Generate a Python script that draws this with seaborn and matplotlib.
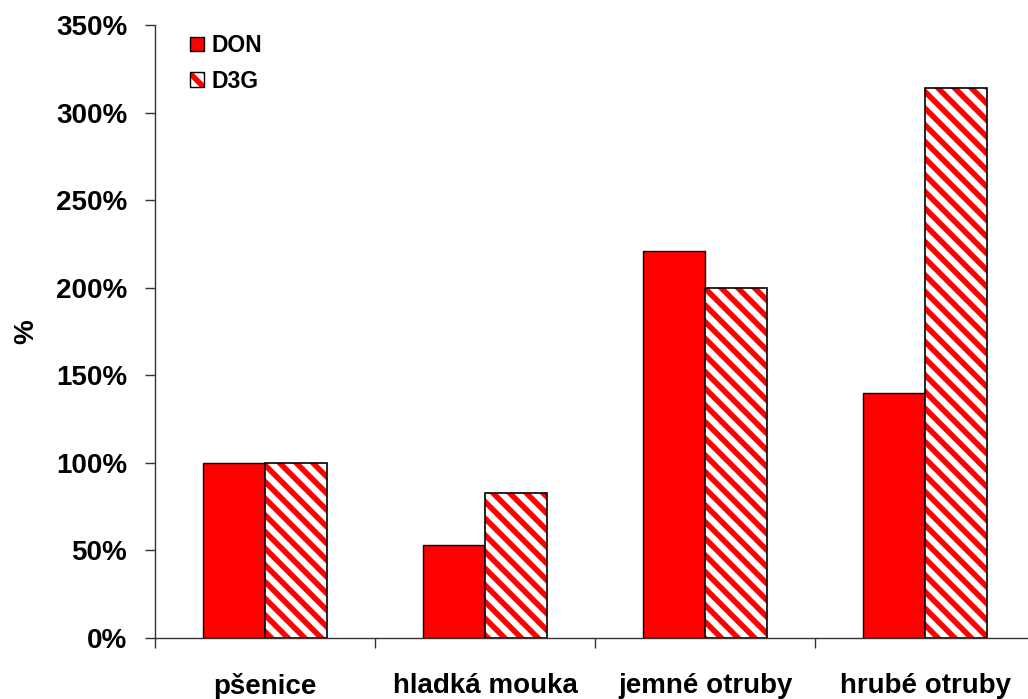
import matplotlib
matplotlib.use("Agg")
import matplotlib.pyplot as plt
import seaborn as sns
import pandas as pd
from matplotlib.patches import Patch, Rectangle
from matplotlib.legend_handler import HandlerTuple
from matplotlib.ticker import FuncFormatter, MultipleLocator, FixedLocator

categories = ["pšenice", "hladká mouka", "jemné otruby", "hrubé otruby"]
series = ["DON", "D3G"]
don_values = [100, 53, 221, 140]
d3g_values = [100, 83, 200, 314]

sns.set_theme(style="white")
plt.rcParams["font.family"] = ["Liberation Sans", "DejaVu Sans"]
plt.rcParams["hatch.linewidth"] = 4.0

df = pd.DataFrame({
    "category": categories * 2,
    "series": ["DON"] * 4 + ["D3G"] * 4,
    "value": don_values + d3g_values,
})

fig = plt.figure(figsize=(10.28, 6.99), dpi=100)
ax = fig.add_axes([155 / 1028, 61 / 699, (1028 - 155) / 1028 + 0.007, 613 / 699])

sns.barplot(data=df, x="category", y="value", hue="series", order=categories,
            hue_order=series, palette={"DON": "#FF0000", "D3G": "white"},
            saturation=1, width=0.565, edgecolor="black", linewidth=1.0, ax=ax, legend=False)

HATCH = "\\\\"
n = len(categories)
bars = [p for p in ax.patches if isinstance(p, Rectangle)]
d3g_bars = bars[n:2 * n]
for p in d3g_bars:
    p.set_edgecolor("#FF0000")
    p.set_hatch(HATCH)
    p.set_linewidth(0)
    outline = Rectangle(p.get_xy(), p.get_width(), p.get_height(), facecolor="none",
                        edgecolor="black", linewidth=1.2, zorder=p.get_zorder() + 0.1)
    ax.add_patch(outline)

FS = 20
ax.set_xlim(-0.5, n - 0.5)
ax.set_ylim(0, 350)
ax.yaxis.set_major_locator(MultipleLocator(50))
ax.yaxis.set_major_formatter(FuncFormatter(lambda v, _: f"{int(v)}%"))
ax.xaxis.set_minor_locator(FixedLocator([i - 0.5 for i in range(n + 1)]))
ax.tick_params(axis="x", which="major", length=0, pad=25, labelsize=FS)
ax.tick_params(axis="x", which="minor", length=7, width=1, color="#333333", direction="out", bottom=True)
ax.tick_params(axis="y", which="major", length=7, width=1, color="#333333", direction="out",
               left=True, labelsize=FS, pad=13)
for lab in ax.get_xticklabels() + ax.get_yticklabels():
    lab.set_fontweight("bold")
    lab.set_color("black")

ax.set_xlabel("")
ax.set_ylabel("%", fontsize=FS, fontweight="bold", labelpad=12, color="black")

for s in ["top", "right"]:
    ax.spines[s].set_visible(False)
for s in ["left", "bottom"]:
    ax.spines[s].set_color("#333333")
    ax.spines[s].set_linewidth(1.0)

h_don = Patch(facecolor="#FF0000", edgecolor="black", linewidth=1.0)
h_d3g = (Patch(facecolor="white", edgecolor="#FF0000", hatch=HATCH, linewidth=0),
         Patch(facecolor="none", edgecolor="black", linewidth=1.0))
leg = ax.legend([h_don, h_d3g], series, handler_map={tuple: HandlerTuple(ndivide=1, pad=0)},
                loc="upper left", bbox_to_anchor=(0.04, 0.985), frameon=False,
                borderpad=0, borderaxespad=0,
                handlelength=0.6, handleheight=0.6, handletextpad=0.35, labelspacing=0.55,
                prop={"weight": "bold", "size": 16.5})
for t in leg.get_texts():
    t.set_color("black")

fig.savefig("out.png", dpi=100)
